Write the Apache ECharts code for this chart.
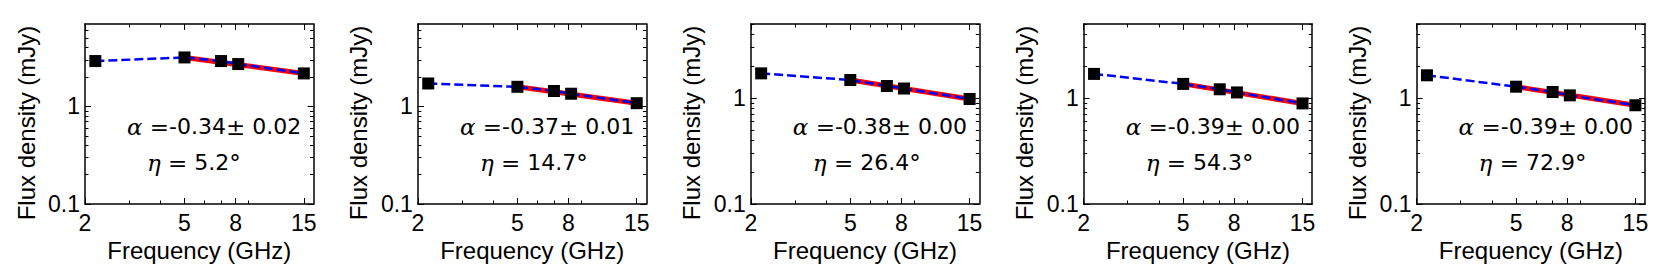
<!DOCTYPE html>
<html><head><meta charset="utf-8">
<script src="https://cdn.jsdelivr.net/npm/echarts@6/dist/echarts.min.js"></script>
<style>html,body{margin:0;padding:0;background:#fff}#c{width:1660px;height:280px}</style>
</head><body><div id="c"></div>
<script>
// ---- data ----
const frequencies = [2.2, 5.0, 7.0, 8.2, 15.0];   // GHz
const flux1 = [2.92, 3.18, 2.92, 2.72, 2.18];      // mJy
const flux2 = [1.72, 1.59, 1.44, 1.35, 1.08];
const flux3 = [1.71, 1.48, 1.30, 1.23, 0.98];
const flux4 = [1.69, 1.36, 1.21, 1.13, 0.89];
const flux5 = [1.64, 1.28, 1.14, 1.06, 0.855];
const fitFreq = [5.0, 15.0];
const fit1 = [3.18, 2.18];
const fit2 = [1.59, 1.08];
const fit3 = [1.48, 0.98];
const fit4 = [1.36, 0.89];
const fit5 = [1.28, 0.855];
const alphaValues = ['-0.34', '-0.37', '-0.38', '-0.39', '-0.39'];
const alphaErrors = ['0.02', '0.01', '0.00', '0.00', '0.00'];
const etaValues = ['5.2', '14.7', '26.4', '54.3', '72.9'];
const xMajorTicks = [2, 5, 8, 15];
const xMinorTicks = [3, 4, 6, 7, 9];
const yMajorTicks = [0.1, 1];
const yMinorTicks = [0.2, 0.3, 0.4, 0.5, 0.6, 0.7, 0.8, 0.9, 2, 3, 4, 5, 6];
const xRange = [2, 16.4];
const yMaxes = [7, 7, 5, 5, 5];

const fluxes = [flux1, flux2, flux3, flux4, flux5];
const fits = [fit1, fit2, fit3, fit4, fit5];

const SANS = 'Liberation Sans';
const NUMF = 'DejaVu Sans';
const SERIF = 'DejaVu Serif';

const grids = [], xAxes = [], yAxes = [], series = [], titles = [];
const GL = 85, GSTEP = 332.9, GW = 228.5, GT = 24, GH = 180;

function xAx(i, pos, ticks, len, main) {
  return {
    type: 'log', logBase: 10, gridIndex: i, position: pos, min: xRange[0], max: xRange[1],
    axisLine: {show: main, onZero: false, lineStyle: {color: '#000', width: 1.5}},
    axisTick: {show: true, inside: true, length: len, customValues: ticks, lineStyle: {color: '#000', width: 1}},
    axisLabel: {show: main && pos === 'bottom', customValues: xMajorTicks, margin: 7,
      fontFamily: SANS, fontSize: 23, color: '#000'},
    splitLine: {show: false}, minorTick: {show: false},
    name: (main && pos === 'bottom') ? 'Frequency (GHz)' : '',
    nameLocation: 'middle', nameGap: 29,
    nameTextStyle: {fontFamily: SANS, fontSize: 24, color: '#000'}
  };
}
function yAx(i, pos, ticks, len, main, ymax) {
  return {
    type: 'log', logBase: 10, gridIndex: i, position: pos, min: 0.1, max: ymax,
    axisLine: {show: main, onZero: false, lineStyle: {color: '#000', width: 1.5}},
    axisTick: {show: true, inside: true, length: len, customValues: ticks, lineStyle: {color: '#000', width: 1}},
    axisLabel: {show: main && pos === 'left', customValues: yMajorTicks, margin: 5,
      fontFamily: SANS, fontSize: 23, color: '#000'},
    splitLine: {show: false}, minorTick: {show: false},
    name: (main && pos === 'left') ? 'Flux density (mJy)' : '',
    nameLocation: 'middle', nameGap: 47,
    nameTextStyle: {fontFamily: SANS, fontSize: 24, color: '#000', padding: [0, 18, 0, 0]}
  };
}

for (let i = 0; i < 5; i++) {
  const left = GL + GSTEP * i;
  grids.push({left: left, top: GT, width: GW, height: GH, containLabel: false});
  xAxes.push(xAx(i, 'bottom', xMajorTicks, 6, true));
  xAxes.push(xAx(i, 'bottom', xMinorTicks, 3.5, false));
  xAxes.push(xAx(i, 'top', xMajorTicks, 6, true));
  xAxes.push(xAx(i, 'top', xMinorTicks, 3.5, false));
  yAxes.push(yAx(i, 'left', yMajorTicks, 6, true, yMaxes[i]));
  yAxes.push(yAx(i, 'left', yMinorTicks, 3.5, false, yMaxes[i]));
  yAxes.push(yAx(i, 'right', yMajorTicks, 6, true, yMaxes[i]));
  yAxes.push(yAx(i, 'right', yMinorTicks, 3.5, false, yMaxes[i]));
  const pts = frequencies.map((f, k) => [f, fluxes[i][k]]);
  const fitPts = fitFreq.map((f, k) => [f, fits[i][k]]);
  series.push({type: 'line', xAxisIndex: 4 * i, yAxisIndex: 4 * i, data: fitPts, symbol: 'none',
    lineStyle: {color: '#ff0000', width: 5, opacity: 1}, z: 2, silent: true, animation: false});
  series.push({type: 'line', xAxisIndex: 4 * i, yAxisIndex: 4 * i, data: pts, symbol: 'none',
    lineStyle: {color: '#0000ff', width: 2.5, type: [9, 4], opacity: 1}, z: 3, silent: true, animation: false});
  series.push({type: 'scatter', xAxisIndex: 4 * i, yAxisIndex: 4 * i, data: pts, symbol: 'rect',
    symbolSize: 12, itemStyle: {color: '#000', opacity: 1}, z: 4, silent: true, animation: false});
  const rich = {
    g: {fontFamily: SERIF, fontStyle: 'italic', fontWeight: 'normal', fontSize: 23, color: '#000'},
    e: {fontFamily: SERIF, fontWeight: 'normal', fontSize: 23, color: '#000'},
    n: {fontFamily: NUMF, fontWeight: 'normal', fontSize: 22, color: '#000'}
  };
  titles.push({left: left + 42, top: 115, padding: 0,
    text: '{g|α }{e|=}{n|' + alphaValues[i] + '}{e|±}{n| ' + alphaErrors[i] + '}',
    textStyle: {fontWeight: 'normal', rich: rich}});
  titles.push({left: left + 62, top: 151, padding: 0,
    text: '{g|η }{e|=}{n| ' + etaValues[i] + '}{e|°}',
    textStyle: {fontWeight: 'normal', rich: rich}});
}

const chart = echarts.init(document.getElementById('c'), null, {renderer: 'svg'});
chart.setOption({
  backgroundColor: '#fff', animation: false,
  title: titles, grid: grids, xAxis: xAxes, yAxis: yAxes, series: series
});
</script></body></html>
